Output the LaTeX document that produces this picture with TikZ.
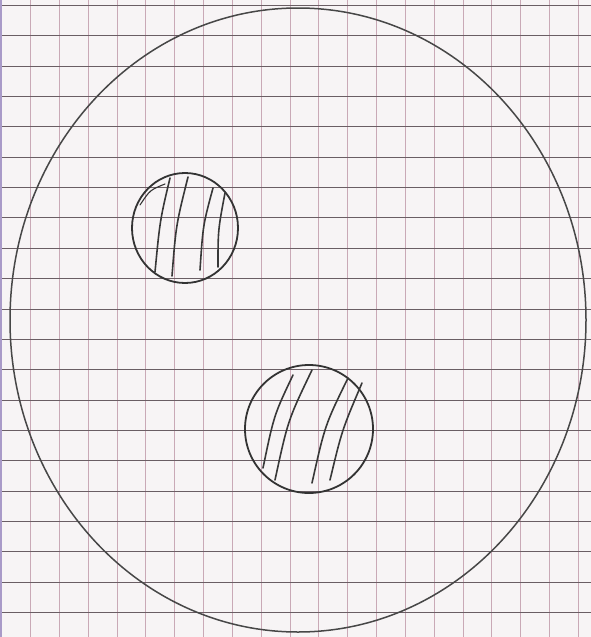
\documentclass[tikz,border=0pt]{standalone}
\begin{document}
\begin{tikzpicture}[x=1pt,y=-1pt,
  pencil/.style={draw=black!80, line width=1.8pt, line cap=round, line join=round},
  hatch/.style={draw=black!78, line width=1.6pt, line cap=round}]
\definecolor{paper}{HTML}{F7F4F5}
\definecolor{vgrid}{HTML}{C9A9B6}
\definecolor{hgrid}{HTML}{6A5E64}
\definecolor{margin}{HTML}{A99AC8}
\useasboundingbox (0,0) rectangle (591,637);
\fill[paper] (0,0) rectangle (591,637);
% vertical grid lines
\foreach \k in {0,...,20} {
  \pgfmathsetmacro{\gx}{round(1.2+28.84*\k)+0.5}
  \draw[vgrid, line width=1pt] (\gx,0) -- (\gx,637);
}
% horizontal grid lines
\foreach \k in {0,...,20} {
  \pgfmathsetmacro{\gy}{round(5+30.35*\k)+0.5}
  \draw[hgrid, line width=1pt] (0,\gy) -- (591,\gy);
}
\draw[margin, line width=1.5pt] (0.8,0) -- (0.8,637);
% big circle
\coordinate (bigc) at (298,320);
\draw[pencil, line width=1.5pt, draw=black!72] (bigc) ellipse [x radius=288, y radius=312];
% small circle 1
\coordinate (c1) at (185,228);
\draw[pencil] (c1) ellipse [x radius=53, y radius=55];
\draw[pencil, line width=1.1pt] (140,205) .. controls (150,190) .. (165,184);
\draw[hatch] (170,178) .. controls (160,220) .. (155,272);
\draw[hatch] (188,177) .. controls (176,225) .. (172,276);
\draw[hatch] (213,188) .. controls (203,225) .. (200,270);
\draw[hatch] (225,193) .. controls (218,230) .. (218,267);
% small circle 2
\coordinate (c2) at (309,429);
\draw[pencil] (c2) ellipse [x radius=64, y radius=64];
\draw[hatch] (293,375) .. controls (274,415) .. (263,468);
\draw[hatch] (312,370) .. controls (288,420) .. (275,480);
\draw[hatch] (348,378) .. controls (325,425) .. (312,483);
\draw[hatch] (362,383) .. controls (342,430) .. (330,480);
\end{tikzpicture}
\end{document}
